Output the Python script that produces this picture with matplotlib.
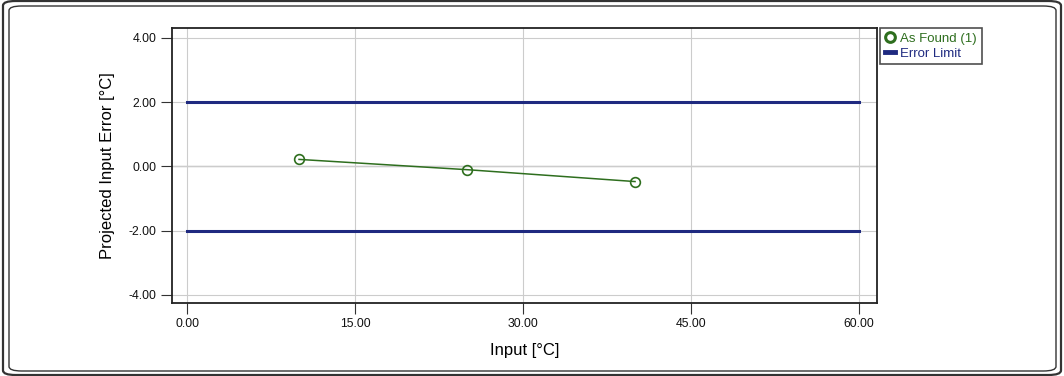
import matplotlib
matplotlib.use('Agg')
import matplotlib.pyplot as plt
from matplotlib.patches import FancyBboxPatch

plt.rcParams['font.family'] = ['Liberation Sans', 'DejaVu Sans']

# data
found_x = [10, 25, 40]
found_y = [0.22, -0.10, -0.47]
limit_x = [0, 60]
limit_hi = [2.0, 2.0]
limit_lo = [-2.0, -2.0]
xticks = [0, 15, 30, 45, 60]
yticks = [-4, -2, 0, 2, 4]

W, H = 1064, 376
fig = plt.figure(figsize=(W / 100, H / 100), dpi=100)

# outer double frame (pixel boxes: x0, y0 from top, x1, y1)
for (x0, y0, x1, y1), lw in [((3, 1, 1061, 375), 1.6), ((9, 6, 1056, 371), 1.0)]:
    fig.patches.append(FancyBboxPatch((x0 / W, 1 - y1 / H), (x1 - x0) / W, (y1 - y0) / H,
                                      boxstyle='round,pad=0,rounding_size=0.012',
                                      transform=fig.transFigure, fill=False,
                                      edgecolor='#333333', linewidth=lw))

ax = fig.add_axes([172 / W, 1 - 303 / H, (877 - 172) / W, (303 - 28) / H])
ax.set_xlim(-1.34, 61.6)
ax.set_ylim(-4.25, 4.31)

ax.set_xticks(xticks)
ax.set_yticks(yticks)
ax.set_xticklabels(['%.2f' % v for v in xticks], fontsize=8.8)
ax.set_yticklabels(['%.2f' % v for v in yticks], fontsize=8.8)
ax.tick_params(direction='out', length=8, width=0.8, color='#333333', pad=3,
               labelcolor='#111111')
ax.grid(True, color='#cccccc', linewidth=0.8)
ax.axhline(0, color='#999999', linewidth=0.9, zorder=1)
for s in ax.spines.values():
    s.set_linewidth(1.3)
    s.set_color('#222222')

ax.plot(limit_x, limit_hi, color='#1f2a80', linewidth=2.2, zorder=3, label='Error Limit')
ax.plot(limit_x, limit_lo, color='#1f2a80', linewidth=2.2, zorder=3)
ax.plot(found_x, found_y, color='#2e6e1e', linewidth=1.1, marker='o', markersize=7,
        markerfacecolor='none', markeredgecolor='#2e6e1e', markeredgewidth=1.2,
        zorder=4, label='As Found (1)')

ax.set_xlabel('Input [°C]', fontsize=12, labelpad=9)
ax.set_ylabel('Projected Input Error [°C]', fontsize=12, labelpad=10)

h, l = ax.get_legend_handles_labels()
leg = fig.legend([h[1], h[0]], [l[1], l[0]], loc='upper left',
                 bbox_to_anchor=(880 / W, 1 - 28 / H), fontsize=9.5,
                 frameon=True, fancybox=False, edgecolor='#222222',
                 handlelength=0.8, handletextpad=0.4, borderpad=0.35,
                 labelspacing=0.2, borderaxespad=0)
leg.get_frame().set_linewidth(1.2)
leg.legend_handles[0].set_linestyle('none')
leg.legend_handles[0].set_markersize(7)
leg.legend_handles[0].set_markeredgewidth(2.2)
leg.legend_handles[1].set_linewidth(3.5)
leg.get_texts()[0].set_color('#2e6e1e')
leg.get_texts()[1].set_color('#1f2a80')

fig.savefig('out.png', dpi=100)
